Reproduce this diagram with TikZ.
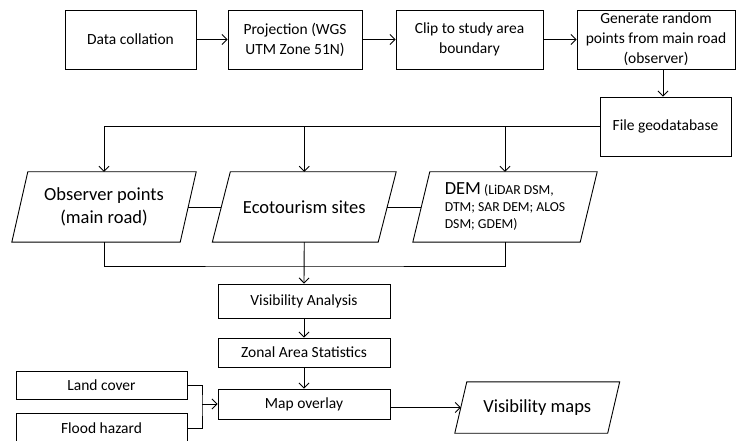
\documentclass[tikz,border=0pt]{standalone}
\usepackage{fontspec}
\setmainfont{Carlito}
\usetikzlibrary{arrows.meta}
\newcommand\paradraw[2]{%
  \draw[line width=0.9pt] ([xshift=#2]#1.north west) -- ([xshift=#2]#1.north east) -- ([xshift=-#2]#1.south east) -- ([xshift=-#2]#1.south west) -- cycle;}
\begin{document}
\begin{tikzpicture}[x=1pt,y=-1pt,
  every node/.style={font=\fontsize{15.5}{20}\selectfont, inner sep=0pt, align=center},
  box/.style={draw, line width=0.9pt, rectangle},
  io/.style={rectangle, minimum height=70},
  bigtext/.style={font=\fontsize{18.5}{23}\selectfont},
  smalltext/.style={font=\fontsize{13.7}{17}\selectfont, align=left},
  conn/.style={line width=0.9pt},
  arr/.style={conn, -{Straight Barb[length=5pt,width=10pt]}},
  ]
\useasboundingbox (0,0) rectangle (737,441);

% top row
\node[box, minimum width=131, minimum height=59] (dc) at (130.5,39.5) {Data collation};
\node[box, minimum width=134, minimum height=59] (proj) at (295,39.5) {Projection (WGS\\UTM Zone 51N)};
\node[box, minimum width=147, minimum height=59] (clip) at (469.5,39.5) {Clip to study area\\boundary};
\node[box, minimum width=158, minimum height=59] (gen) at (656,39.5) {Generate random\\points from main road\\(observer)};
\node[box, minimum width=131, minimum height=59] (fg) at (665.5,126.5) {File geodatabase};

% input row
\node[io, bigtext, minimum width=168] (obs) at (104,207) {Observer points\\(main road)};
\node[io, bigtext, minimum width=165.5] (eco) at (304.25,207) {Ecotourism sites};
\node[io, smalltext, minimum width=167] (dem) at (505,207) {{\fontsize{18.5}{17}\selectfont DEM} (LiDAR DSM,\\DTM; SAR DEM; ALOS\\DSM; GDEM)};
\paradraw{obs}{8}
\paradraw{eco}{9}
\paradraw{dem}{8.5}

% lower column
\node[box, minimum width=172, minimum height=34] (va) at (304,301) {Visibility Analysis};
\node[box, minimum width=172, minimum height=29] (zas) at (304,352.5) {Zonal Area Statistics};
\node[box, minimum width=172, minimum height=30] (mo) at (304,404) {Map overlay};
\node[box, minimum width=171, minimum height=28] (lc) at (101.5,385) {Land cover};
\node[box, minimum width=171, minimum height=30] (fh) at (101.5,428) {Flood hazard};
\node[io, bigtext, minimum width=152.5, minimum height=51] (vm) at (537.25,407.5) {Visibility maps};
\paradraw{vm}{6}

% connectors
\draw[arr] (dc.east) -- (proj.west);
\draw[arr] (proj.east) -- (clip.west);
\draw[arr] (clip.east) -- (gen.west);
\draw[arr] ([xshift=7]gen.south) -- ([xshift=7]gen.south |- fg.north);
\draw[arr] (fg.west) -| (obs.north);
\draw[arr] (eco.north |- fg.west) -- (eco.north);
\draw[arr] (dem.north |- fg.west) -- (dem.north);
\draw[conn] (obs.east) -- (eco.west);
\draw[conn] (eco.east) -- (dem.west);
\coordinate (mrg) at (304.25,266);
\draw[conn] (obs.south) |- (mrg) -| (dem.south);
\draw[arr] (eco.south) -- (va.north);
\draw[arr] (va.south) -- (zas.north);
\draw[arr] (zas.south) -- (mo.north);
\coordinate (jn) at (202,404);
\draw[conn] (lc.east) -| (jn) |- (fh.east);
\draw[arr] (jn) -- (mo.west);
\draw[arr] (vm.west -| mo.east) -- (vm.west);
\end{tikzpicture}
\end{document}
